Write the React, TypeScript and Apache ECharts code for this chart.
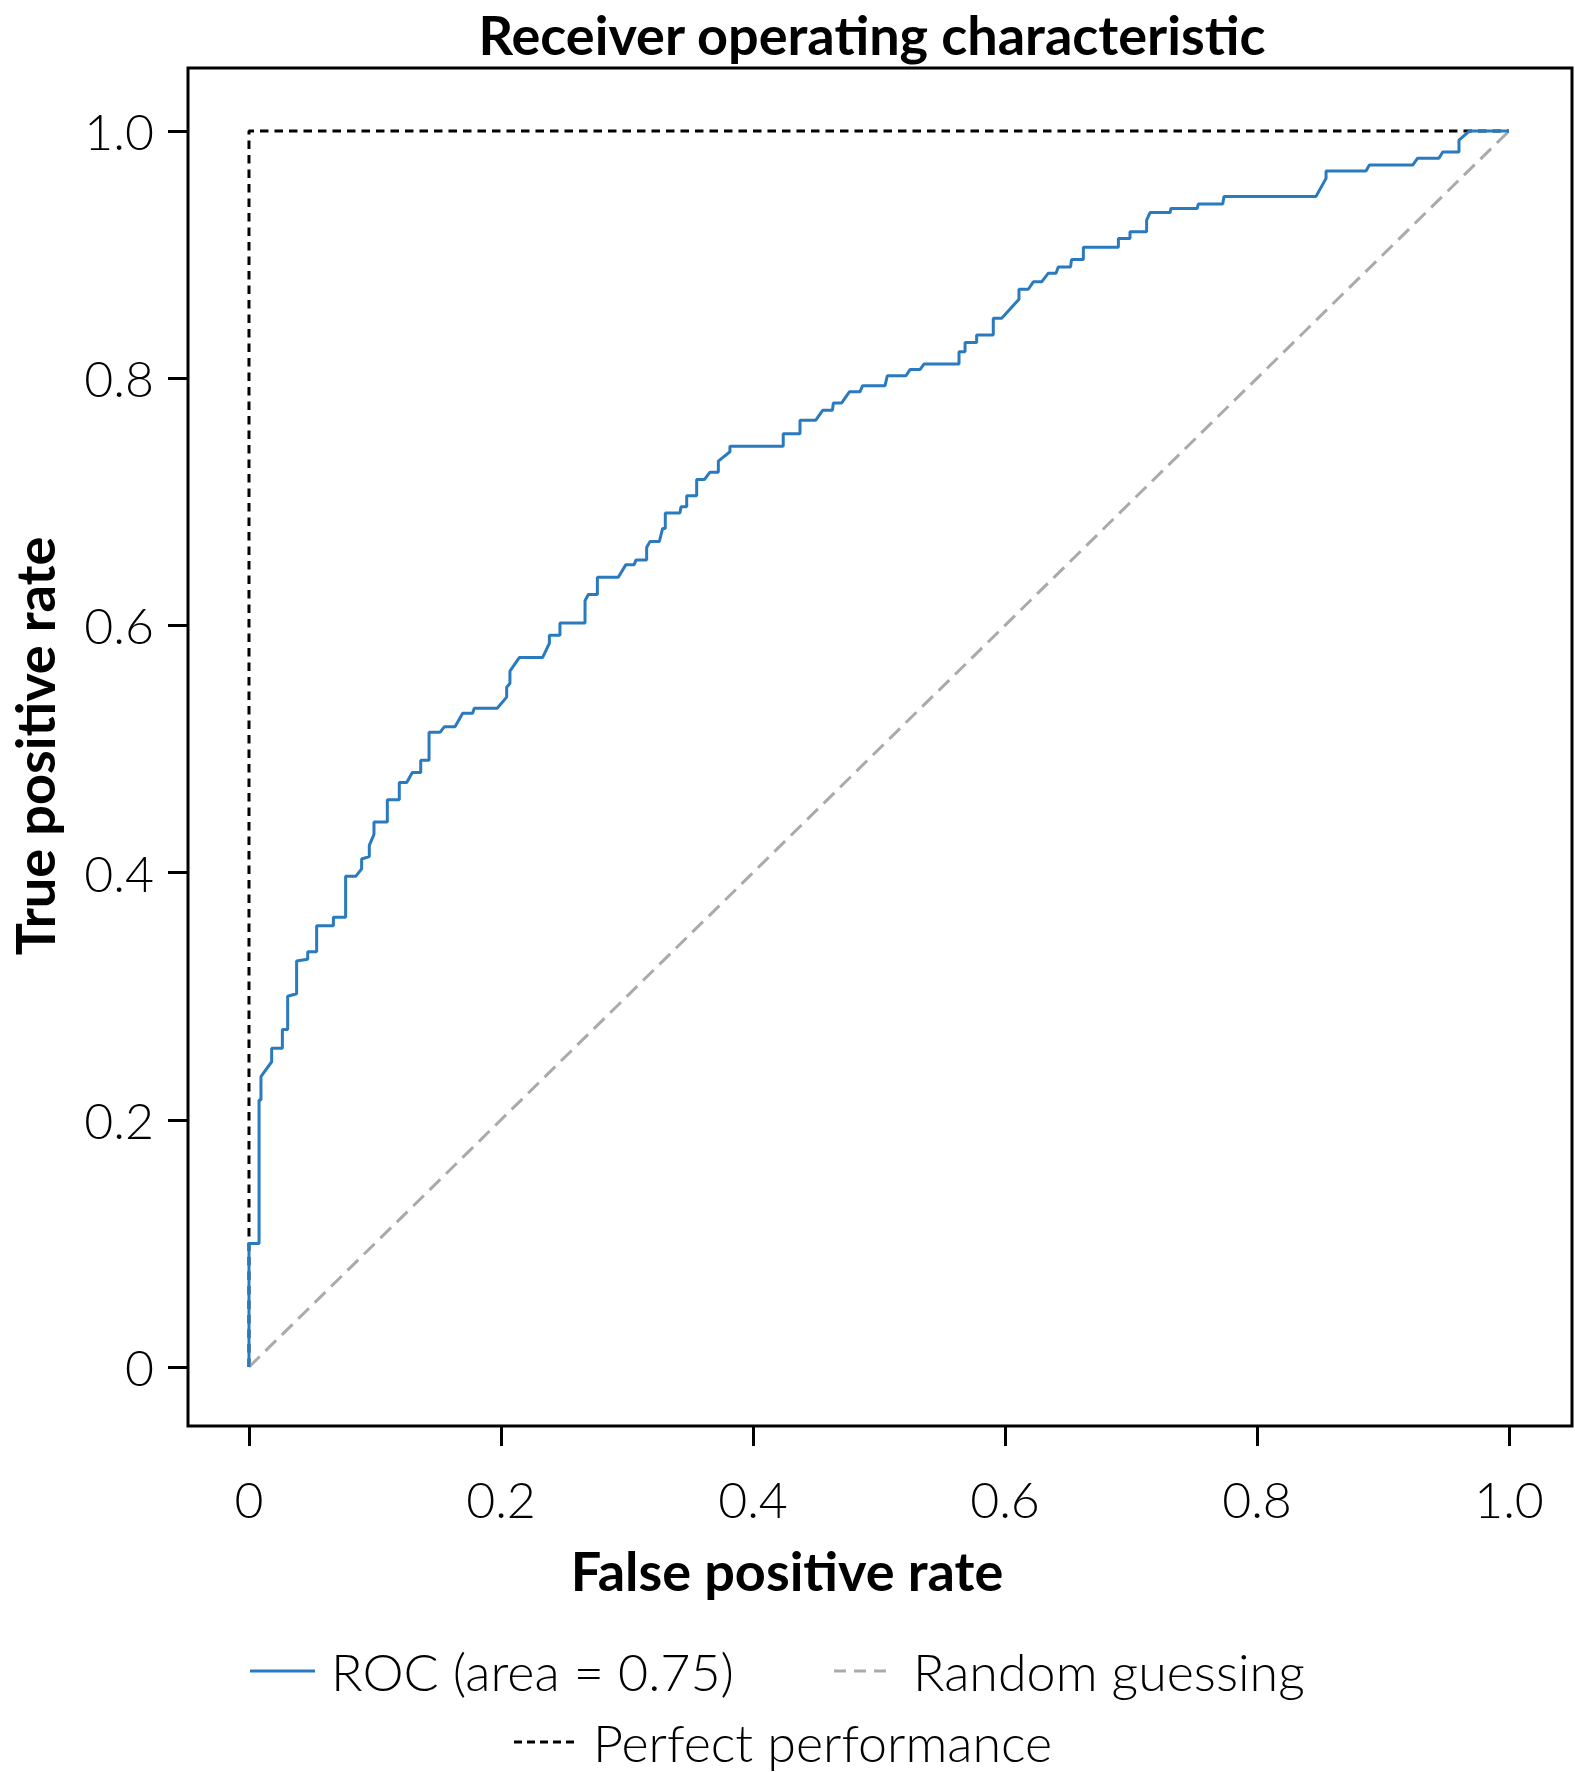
import React, { useEffect, useRef } from "react";
import * as echarts from "echarts";

// ROC curve corner points (false positive rate, true positive rate)
const rocFpr = [
  0, 0, 0.008, 0.008, 0.0095, 0.0095, 0.018, 0.018, 0.0265, 0.0265,
  0.0307, 0.0307, 0.0378, 0.0378, 0.0466, 0.0466, 0.0537, 0.0537, 0.067, 0.067,
  0.0767, 0.0767, 0.0847, 0.0894, 0.0894, 0.0955, 0.0955, 0.0992, 0.0992, 0.1098,
  0.1098, 0.1193, 0.1193, 0.1252, 0.1296, 0.1363, 0.1363, 0.1429, 0.1429, 0.1516,
  0.155, 0.1635, 0.1696, 0.1775, 0.1788, 0.197, 0.2045, 0.2045, 0.2071, 0.2071,
  0.2145, 0.233, 0.2384, 0.2384, 0.2468, 0.2468, 0.2667, 0.2667, 0.2693, 0.2765,
  0.2765, 0.2931, 0.299, 0.3056, 0.3072, 0.3156, 0.3156, 0.3183, 0.3257, 0.3283,
  0.3304, 0.3304, 0.342, 0.3429, 0.3474, 0.3474, 0.3553, 0.3553, 0.3614, 0.3659,
  0.3725, 0.3725, 0.3817, 0.3817, 0.424, 0.424, 0.4373, 0.4373, 0.4497, 0.4553,
  0.463, 0.4638, 0.4704, 0.4765, 0.4849, 0.487, 0.5048, 0.5066, 0.5214, 0.5246,
  0.5325, 0.5357, 0.5635, 0.5635, 0.5683, 0.5683, 0.5775, 0.5775, 0.5907, 0.5907,
  0.5974, 0.6111, 0.6111, 0.6185, 0.6225, 0.6291, 0.6344, 0.6405, 0.6423, 0.652,
  0.6528, 0.6622, 0.6622, 0.69, 0.69, 0.6992, 0.6992, 0.7124, 0.7124, 0.7151,
  0.731, 0.7317, 0.7526, 0.7534, 0.7728, 0.7738, 0.8468, 0.8548, 0.8548, 0.8865,
  0.8892, 0.9236, 0.9275, 0.9444, 0.9474, 0.9603, 0.9603, 0.9685, 1.0,
];
const rocTpr = [
  0, 0.1, 0.1, 0.216, 0.216, 0.235, 0.247, 0.258, 0.258, 0.273,
  0.273, 0.3, 0.302, 0.3285, 0.33, 0.336, 0.336, 0.357, 0.357, 0.364,
  0.364, 0.397, 0.397, 0.403, 0.411, 0.413, 0.422, 0.431, 0.441, 0.441,
  0.459, 0.459, 0.473, 0.473, 0.481, 0.481, 0.491, 0.491, 0.5135, 0.5135,
  0.518, 0.518, 0.529, 0.529, 0.533, 0.533, 0.542, 0.55, 0.553, 0.563,
  0.574, 0.574, 0.5855, 0.592, 0.592, 0.602, 0.602, 0.62, 0.625, 0.625,
  0.639, 0.639, 0.649, 0.649, 0.653, 0.653, 0.663, 0.668, 0.668, 0.6785,
  0.6785, 0.691, 0.691, 0.696, 0.696, 0.705, 0.705, 0.718, 0.718, 0.724,
  0.724, 0.733, 0.7405, 0.745, 0.745, 0.755, 0.755, 0.766, 0.766, 0.774,
  0.774, 0.78, 0.78, 0.789, 0.789, 0.794, 0.794, 0.802, 0.802, 0.807,
  0.807, 0.8115, 0.8115, 0.8215, 0.8215, 0.829, 0.829, 0.835, 0.835, 0.8485,
  0.8485, 0.864, 0.872, 0.872, 0.878, 0.878, 0.885, 0.885, 0.89, 0.89,
  0.896, 0.896, 0.906, 0.906, 0.913, 0.913, 0.9186, 0.9186, 0.928, 0.934,
  0.934, 0.9374, 0.9374, 0.941, 0.941, 0.947, 0.947, 0.9617, 0.9676, 0.9676,
  0.9725, 0.9725, 0.978, 0.978, 0.983, 0.983, 0.9927, 1.0, 1.0,
];
const randomFpr = [0, 1];
const randomTpr = [0, 1];
const perfectFpr = [0, 0, 1];
const perfectTpr = [0, 1, 1];

const tickValues = [0, 0.2, 0.4, 0.6, 0.8, 1.0];
const tickLabels = ["0", "0.2", "0.4", "0.6", "0.8", "1.0"];

const titleText = "Receiver operating characteristic";
const xName = "False positive rate";
const yName = "True positive rate";
const legendLabels = ["ROC (area = 0.75)", "Random guessing", "Perfect performance"];

const BLUE = "#2a7abf";
const GRAY = "#aaaaaa";
const FONT = "Lato";

export default function App() {
  const ref = useRef<HTMLDivElement>(null);

  useEffect(() => {
    if (!ref.current) return;
    const chart = echarts.init(ref.current, undefined, { renderer: "svg" });
    const fmt = (v: number) => {
      const i = tickValues.findIndex((t) => Math.abs(t - v) < 1e-6);
      return i >= 0 ? tickLabels[i] : "";
    };
    const zip = (xs: number[], ys: number[]) => xs.map((x, i) => [x, ys[i]]);
    const labelStyle = {
      color: "#000",
      fontFamily: FONT,
      fontWeight: 300 as any,
      fontSize: 50,
      formatter: fmt,
      customValues: tickValues,
    };
    const tickStyle = {
      show: true,
      inside: false,
      length: 20,
      customValues: tickValues,
      lineStyle: { color: "#000", width: 3 },
    };
    const txt = (
      text: string,
      x: number,
      y: number,
      font: string,
      align: string,
      extra: any = {}
    ) => ({
      type: "text",
      x,
      y,
      ...extra,
      style: {
        text,
        font,
        fill: "#000",
        align,
        verticalAlign: "middle",
        textAlign: align,
        textVerticalAlign: "middle",
      },
    });

    chart.setOption({
      animation: false,
      backgroundColor: "#fff",
      grid: {
        left: 188,
        top: 68,
        width: 1384,
        height: 1358,
        show: true,
        borderColor: "#000",
        borderWidth: 3,
        backgroundColor: "transparent",
        containLabel: false,
      },
      xAxis: {
        type: "value",
        min: -0.0484,
        max: 1.05,
        axisLine: { show: false, onZero: false },
        splitLine: { show: false },
        axisTick: tickStyle,
        axisLabel: { ...labelStyle, margin: 48 },
      },
      yAxis: {
        type: "value",
        min: -0.0477,
        max: 1.051,
        axisLine: { show: false, onZero: false },
        splitLine: { show: false },
        axisTick: tickStyle,
        axisLabel: { ...labelStyle, margin: 34, padding: [12, 0, 0, 0] },
      },
      series: [
        {
          name: legendLabels[2],
          type: "line",
          data: zip(perfectFpr, perfectTpr),
          showSymbol: false,
          symbol: "none",
          z: 1,
          lineStyle: { color: "#000", width: 3, type: [8.5, 6] },
        },
        {
          name: legendLabels[1],
          type: "line",
          data: zip(randomFpr, randomTpr),
          showSymbol: false,
          symbol: "none",
          z: 2,
          lineStyle: { color: GRAY, width: 3, type: [15, 8] },
        },
        {
          name: legendLabels[0],
          type: "line",
          data: zip(rocFpr, rocTpr),
          showSymbol: false,
          symbol: "none",
          z: 3,
          lineStyle: { color: BLUE, width: 3 },
        },
      ],
      graphic: [
        txt(titleText, 872, 34, `bold 54px ${FONT}`, "center"),
        txt(xName, 787, 1570, `bold 54px ${FONT}`, "center"),
        txt(yName, 34, 746, `bold 54px ${FONT}`, "center", { rotation: Math.PI / 2 }),
        {
          type: "line",
          shape: { x1: 250, y1: 1671, x2: 315, y2: 1671 },
          style: { stroke: BLUE, lineWidth: 3 },
        },
        txt(legendLabels[0], 331, 1671, `300 52px ${FONT}`, "left"),
        {
          type: "line",
          shape: { x1: 834, y1: 1671, x2: 893, y2: 1671 },
          style: { stroke: GRAY, lineWidth: 3, lineDash: [12, 8] },
        },
        txt(legendLabels[1], 913, 1671, `300 52px ${FONT}`, "left"),
        {
          type: "line",
          shape: { x1: 514, y1: 1742, x2: 579, y2: 1742 },
          style: { stroke: "#000", lineWidth: 3, lineDash: [8, 5] },
        },
        txt(legendLabels[2], 593, 1742, `300 52px ${FONT}`, "left"),
      ],
    });
    return () => chart.dispose();
  }, []);

  return (
    <div
      ref={ref}
      style={{
        position: "fixed",
        left: 0,
        top: 0,
        width: 1575,
        height: 1772,
        background: "#fff",
      }}
    />
  );
}
